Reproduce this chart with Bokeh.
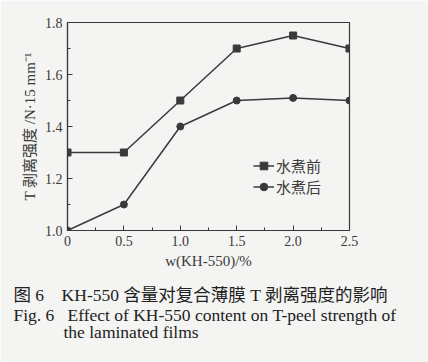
from bokeh.plotting import figure
from bokeh.models import Title, Legend, LegendItem, FixedTicker
from bokeh.embed import file_html
from bokeh.resources import INLINE

x_vals = [0, 0.5, 1.0, 1.5, 2.0, 2.5]
before = [1.30, 1.30, 1.50, 1.70, 1.75, 1.70]
after = [1.00, 1.10, 1.40, 1.50, 1.51, 1.50]
x_ticks = [0, 0.5, 1.0, 1.5, 2.0, 2.5]
x_tick_labels = {0: "0", 0.5: "0.5", 1: "1.0", 1.5: "1.5", 2: "2.0", 2.5: "2.5"}
y_ticks = [1.0, 1.2, 1.4, 1.6, 1.8]
y_tick_labels = {1: "1.0", 1.2: "1.2", 1.4: "1.4", 1.6: "1.6", 1.8: "1.8"}
series_names = ["水煮前", "水煮后"]
NB = "\u00a0"
caption1 = "图 6" + NB * 4 + "KH-550 含量对复合薄膜 T 剥离强度的影响"
caption2 = "Fig. 6" + NB * 3 + "Effect of KH-550 content on T-peel strength of"
caption3 = "the laminated films"
xlabel = "w(KH-550)/%"
ylabel = "T 剥离强度 /N·15 mm⁻¹"

FONT = "'Liberation Serif', 'Noto Sans CJK SC'"
INK = "#3a3a3a"
BG = "#f4f4f2"

p = figure(width=428, height=362, output_backend="svg", toolbar_location=None,
           x_range=(0, 2.5), y_range=(1.0, 1.8),
           min_border_left=67, min_border_right=79, min_border_top=22, min_border_bottom=132)
p.background_fill_color = BG
p.border_fill_color = BG
p.outline_line_color = INK
p.outline_line_width = 1.2
p.grid.visible = False

for ax in (p.xaxis[0], p.yaxis[0]):
    ax.axis_line_color = INK
    ax.axis_line_width = 1.2
    ax.major_tick_in = 5
    ax.major_tick_out = 0
    ax.minor_tick_in = 3
    ax.minor_tick_out = 0
    ax.major_tick_line_color = INK
    ax.minor_tick_line_color = INK
    ax.major_label_text_font = FONT
    ax.major_label_text_font_size = "14px"
    ax.major_label_text_color = INK
    ax.axis_label_text_font = FONT
    ax.axis_label_text_font_style = "normal"
    ax.axis_label_text_color = INK
    ax.axis_label_text_font_size = "15px"

p.xaxis.ticker = FixedTicker(ticks=x_ticks, minor_ticks=[0.25, 0.75, 1.25, 1.75, 2.25])
p.yaxis.ticker = FixedTicker(ticks=y_ticks, minor_ticks=[1.1, 1.3, 1.5, 1.7])
p.xaxis.major_label_overrides = x_tick_labels
p.yaxis.major_label_overrides = y_tick_labels
p.xaxis.major_label_standoff = 5
p.yaxis.major_label_standoff = 5
p.xaxis.axis_label = xlabel
p.yaxis.axis_label = ylabel
p.xaxis.axis_label_standoff = 4
p.yaxis.axis_label_standoff = 4

l1 = p.line(x_vals, before, line_color=INK, line_width=1.5)
m1 = p.scatter(x_vals, before, marker="square", size=7, color=INK)
l2 = p.line(x_vals, after, line_color=INK, line_width=1.5)
m2 = p.scatter(x_vals, after, marker="circle", size=7, color=INK)

legend = Legend(items=[LegendItem(label=series_names[0], renderers=[l1, m1]),
                       LegendItem(label=series_names[1], renderers=[l2, m2])],
                location=(186, 33), background_fill_alpha=0, border_line_alpha=0,
                padding=0, margin=0, spacing=0, glyph_width=21, glyph_height=19,
                label_height=19, label_standoff=2,
                label_text_font=FONT, label_text_font_size="15px", label_text_color=INK)
p.add_layout(legend)

# spacer between the axis panel and the caption lines
p.add_layout(Title(text=NB, text_font_size="1px", standoff=8), "below")
for txt, off, sd in [(caption1, -54, 0), (caption2, -54, -4), (caption3, -4, -6)]:
    p.add_layout(Title(text=txt, align="left", offset=off, standoff=sd,
                       text_font=FONT, text_font_size="17.5px", text_font_style="normal",
                       text_color="#222"), "below")

open("out.html", "w").write(file_html(p, INLINE))
